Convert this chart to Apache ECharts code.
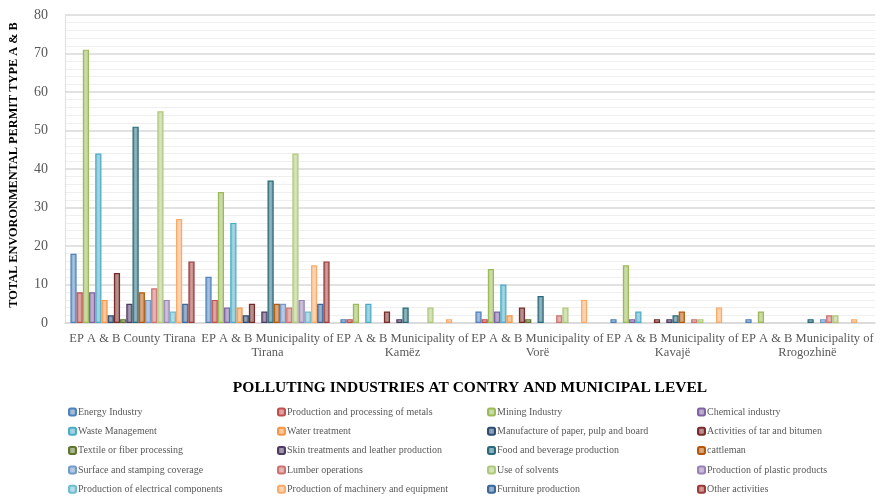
<!DOCTYPE html>
<html>
<head>
<meta charset="utf-8">
<script src="https://cdn.jsdelivr.net/npm/echarts@6/dist/echarts.min.js"></script>
<style>
  html, body { margin: 0; padding: 0; background: #fff; }
  #chart { width: 881px; height: 496px; }
</style>
</head>
<body>
<div id="chart"></div>
<script>
// Administrative units (x-axis categories)
const categories = [
  'EP A & B County Tirana',
  'EP A & B Municipality of\nTirana',
  'EP A & B Municipality of\nKamëz',
  'EP A & B Municipality of\nVorë',
  'EP A & B Municipality of\nKavajë',
  'EP A & B Municipality of\nRrogozhinë'
];

// Industry names, in legend order
const industries = [
  'Energy Industry', 'Production and processing of metals', 'Mining Industry', 'Chemical industry',
  'Waste Management', 'Water treatment', 'Manufacture of paper, pulp and board', 'Activities of tar and bitumen',
  'Textile or fiber processing', 'Skin treatments and leather production', 'Food and beverage production', 'cattleman',
  'Surface and stamping coverage', 'Lumber operations', 'Use of solvents', 'Production of plastic products',
  'Production of electrical components', 'Production of machinery and equipment', 'Furniture production', 'Other activities'
];

// Permit counts per unit, one value per industry (same order as industries)
const countyTirana   = [18, 8, 71, 8, 44, 6, 2, 13, 1, 5, 51, 8, 6, 9, 55, 6, 3, 27, 5, 16];
const muniTirana     = [12, 6, 34, 4, 26, 4, 2, 5, 0, 3, 37, 5, 5, 4, 44, 6, 3, 15, 5, 16];
const muniKamez      = [1, 1, 5, 0, 5, 0, 0, 3, 0, 1, 4, 0, 0, 0, 4, 0, 0, 1, 0, 0];
const muniVore       = [3, 1, 14, 3, 10, 2, 0, 4, 1, 0, 7, 0, 0, 2, 4, 0, 0, 6, 0, 0];
const muniKavaje     = [1, 0, 15, 1, 3, 0, 0, 1, 0, 1, 2, 3, 0, 1, 1, 0, 0, 4, 0, 0];
const muniRrogozhine = [1, 0, 3, 0, 0, 0, 0, 0, 0, 0, 1, 0, 1, 2, 2, 0, 0, 1, 0, 0];

const unitValues = [countyTirana, muniTirana, muniKamez, muniVore, muniKavaje, muniRrogozhine];

// Y-axis range
const yMin = 0, yMax = 80, yStep = 10;

// Office-style palette with darker / lighter variations
const palette = [
  '#4F81BD', '#C0504D', '#9BBB59', '#8064A2', '#4BACC6', '#F79646',
  '#2C4D75', '#772C2A', '#5F7530', '#4D3B62', '#276A7C', '#B65708',
  '#729ACA', '#CD7371', '#AFC97A', '#9983B5', '#6FBDD1', '#F9AB6B',
  '#3A679C', '#9C3A38'
];

function mix(hex, t) {
  const n = parseInt(hex.slice(1), 16);
  const r = (n >> 16) & 255, g = (n >> 8) & 255, b = n & 255;
  const f = c => Math.round(c + (255 - c) * t);
  return 'rgb(' + f(r) + ',' + f(g) + ',' + f(b) + ')';
}

const serif = '"Liberation Serif", "Times New Roman", serif';

// Zero counts are left empty so no outline is drawn on the baseline
const series = industries.map((name, i) => ({
  name: name,
  type: 'bar',
  barGap: '0%',
  barCategoryGap: '8%',
  data: unitValues.map(v => (v[i] === 0 ? '-' : v[i])),
  itemStyle: {
    color: {
      type: 'linear', x: 0, y: 0, x2: 1, y2: 0,
      colorStops: [
        { offset: 0, color: mix(palette[i], 0.25) },
        { offset: 0.5, color: mix(palette[i], 0.5) },
        { offset: 1, color: mix(palette[i], 0.3) }
      ]
    },
    borderColor: palette[i],
    borderWidth: 1.2
  }
}));

// Four legend columns, five rows each (row-wise order)
const colLeft = [63, 272, 482, 692];
const legends = colLeft.map((left, c) => ({
  orient: 'vertical',
  left: left,
  top: 402,
  height: 94,
  itemGap: 9.3,
  itemWidth: 7,
  itemHeight: 7,
  data: industries.filter((_, k) => k % 4 === c),
  textStyle: { fontFamily: serif, fontSize: 10, lineHeight: 10, color: '#595959', padding: [0, 0, 0, -3] },
  selectedMode: false
}));

const chart = echarts.init(document.getElementById('chart'), null, { renderer: 'canvas' });
chart.setOption({
  animation: false,
  color: palette,
  grid: { left: 60, right: 6, top: 15, bottom: 173, containLabel: false },
  legend: legends,
  xAxis: {
    type: 'category',
    data: categories,
    axisTick: { show: false },
    axisLine: { lineStyle: { color: '#d9d9d9', width: 1.5 } },
    axisLabel: {
      interval: 0, fontFamily: serif, fontSize: 12.5, color: '#595959',
      lineHeight: 14, margin: 9
    },
    name: 'POLLUTING INDUSTRIES AT CONTRY AND MUNICIPAL LEVEL',
    nameLocation: 'middle',
    nameGap: 57,
    nameTextStyle: { fontFamily: serif, fontSize: 15.5, fontWeight: 'bold', color: '#000' }
  },
  yAxis: {
    type: 'value',
    min: yMin, max: yMax, interval: yStep,
    axisLine: { show: true, lineStyle: { color: '#d9d9d9', type: 'dotted' } },
    axisTick: { show: false },
    axisLabel: { fontFamily: serif, fontSize: 14, color: '#595959', margin: 17 },
    splitLine: { lineStyle: { color: '#d9d9d9', width: 1.5 } },
    minorTick: { show: false, splitNumber: 5 },
    minorSplitLine: { show: true, lineStyle: { color: '#efefef', width: 1 } },
    name: 'TOTAL ENVORONMENTAL PERMIT TYPE A & B',
    nameLocation: 'middle',
    nameGap: 45,
    nameRotate: 90,
    nameTextStyle: { fontFamily: serif, fontSize: 12.3, fontWeight: 'bold', color: '#000', padding: [0, 0, 0, 8] }
  },
  series: series
});
</script>
</body>
</html>
